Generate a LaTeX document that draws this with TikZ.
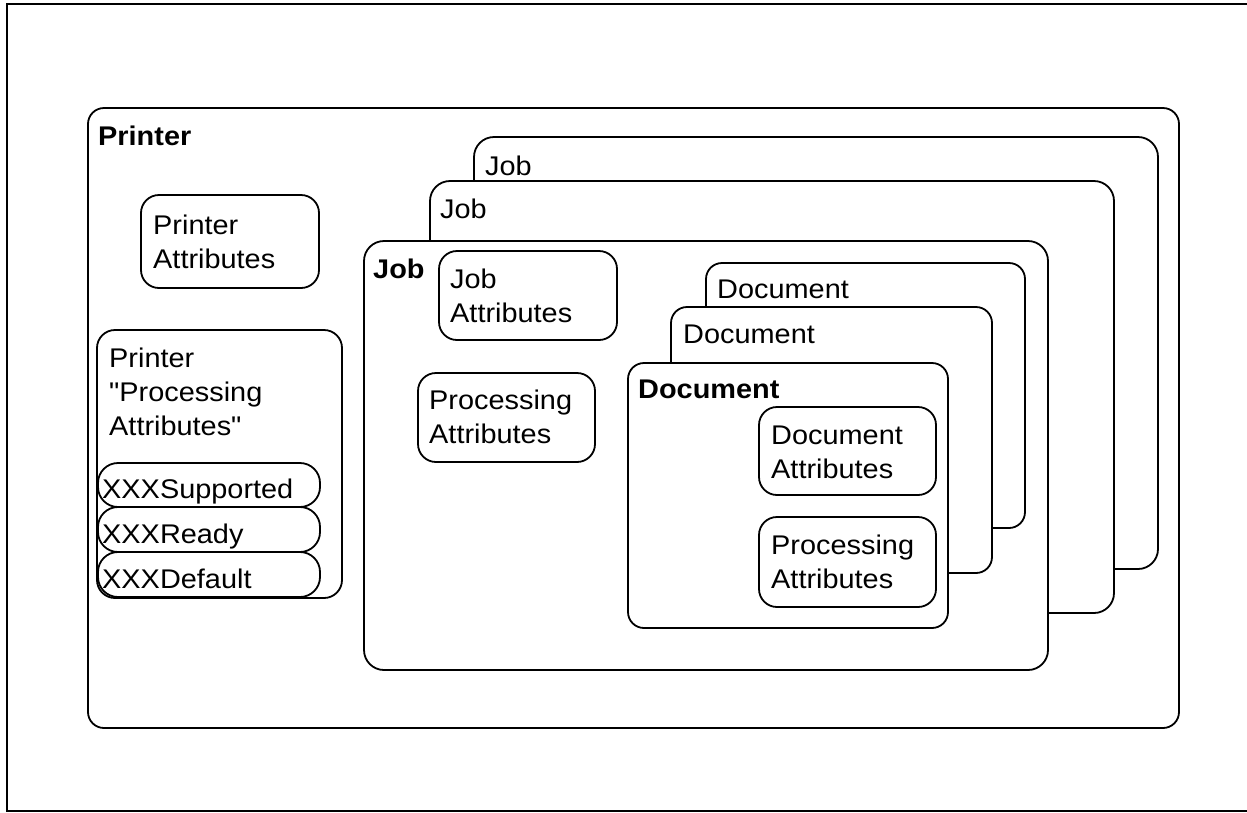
\documentclass[tikz,border=0pt]{standalone}
\usepackage{fontspec}
\setmainfont{Liberation Sans}[FakeStretch=1.07, Ligatures=TeXOff]
\begin{document}
\begin{tikzpicture}[x=1pt,y=-1pt,
  box/.style={draw, line width=1.8pt, fill=white, rounded corners=16pt,
    anchor=north west, inner sep=0pt, outer sep=0pt},
  pill/.style={box, rounded corners=20pt},
  lbl/.style={anchor=base west, inner sep=0pt, align=left,
    font=\fontsize{27}{34}\selectfont},
  blbl/.style={lbl, font=\fontsize{27}{34}\selectfont\bfseries}]
\useasboundingbox (0,0) rectangle (1247,812);
% page frame (right edge lies beyond the page)
\draw[line width=1.8pt] (7,4) rectangle (1260,811);

% printer
\node[box, minimum width=1091pt, minimum height=620pt] (printer) at (88,108) {};
\node[blbl] (printerlbl) at (98,145) {Printer};
\node[box, rounded corners=18pt, minimum width=178pt, minimum height=93pt] (pattr) at (141,195) {};
\node[lbl] (pattrlbl) at (153,268) {Printer\\Attributes};
\node[box, rounded corners=18pt, minimum width=245pt, minimum height=268pt] (pproc) at (97,330) {};
\node[lbl] (pproclbl) at (109,435) {Printer\\"Processing\\Attributes"};
\node[pill, minimum width=222pt, minimum height=44pt] (sup) at (98,463) {};
\node[lbl] (suplbl) at (102,498) {XXXSupported};
\node[pill, minimum width=222pt, minimum height=45pt] (rdy) at (98,507) {};
\node[lbl] (rdylbl) at (102,543) {XXXReady};
\node[pill, minimum width=222pt, minimum height=45pt] (dft) at (98,552) {};
\node[lbl] (dftlbl) at (102,588) {XXXDefault};

% stack of jobs
\node[box, rounded corners=20pt, minimum width=684pt, minimum height=432pt] (jobback) at (474,137) {};
\node[lbl] (jobbacklbl) at (485,175) {Job};
\node[box, rounded corners=20pt, minimum width=684pt, minimum height=432pt] (jobmid) at (430,181) {};
\node[lbl] (jobmidlbl) at (440,218) {Job};
\node[box, rounded corners=20pt, minimum width=684pt, minimum height=429pt] (job) at (364,241) {};
\node[blbl] (joblbl) at (373,278) {Job};
\node[box, rounded corners=18pt, minimum width=178pt, minimum height=89pt] (jattr) at (439,251) {};
\node[lbl] (jattrlbl) at (450,322) {Job\\Attributes};
\node[box, rounded corners=18pt, minimum width=177pt, minimum height=89pt] (jproc) at (418,373) {};
\node[lbl] (jproclbl) at (429,443) {Processing\\Attributes};

% stack of documents
\node[box, minimum width=319pt, minimum height=265pt] (docback) at (706,263) {};
\node[lbl] (docbacklbl) at (717,298) {Document};
\node[box, minimum width=321pt, minimum height=266pt] (docmid) at (671,307) {};
\node[lbl] (docmidlbl) at (683,343) {Document};
\node[box, minimum width=320pt, minimum height=265pt] (doc) at (628,363) {};
\node[blbl] (doclbl) at (638,398) {Document};
\node[box, rounded corners=18pt, minimum width=177pt, minimum height=88pt] (dattr) at (759,407) {};
\node[lbl] (dattrlbl) at (771,478) {Document\\Attributes};
\node[box, rounded corners=18pt, minimum width=177pt, minimum height=90pt] (dproc) at (759,517) {};
\node[lbl] (dproclbl) at (771,588) {Processing\\Attributes};
\end{tikzpicture}
\end{document}
